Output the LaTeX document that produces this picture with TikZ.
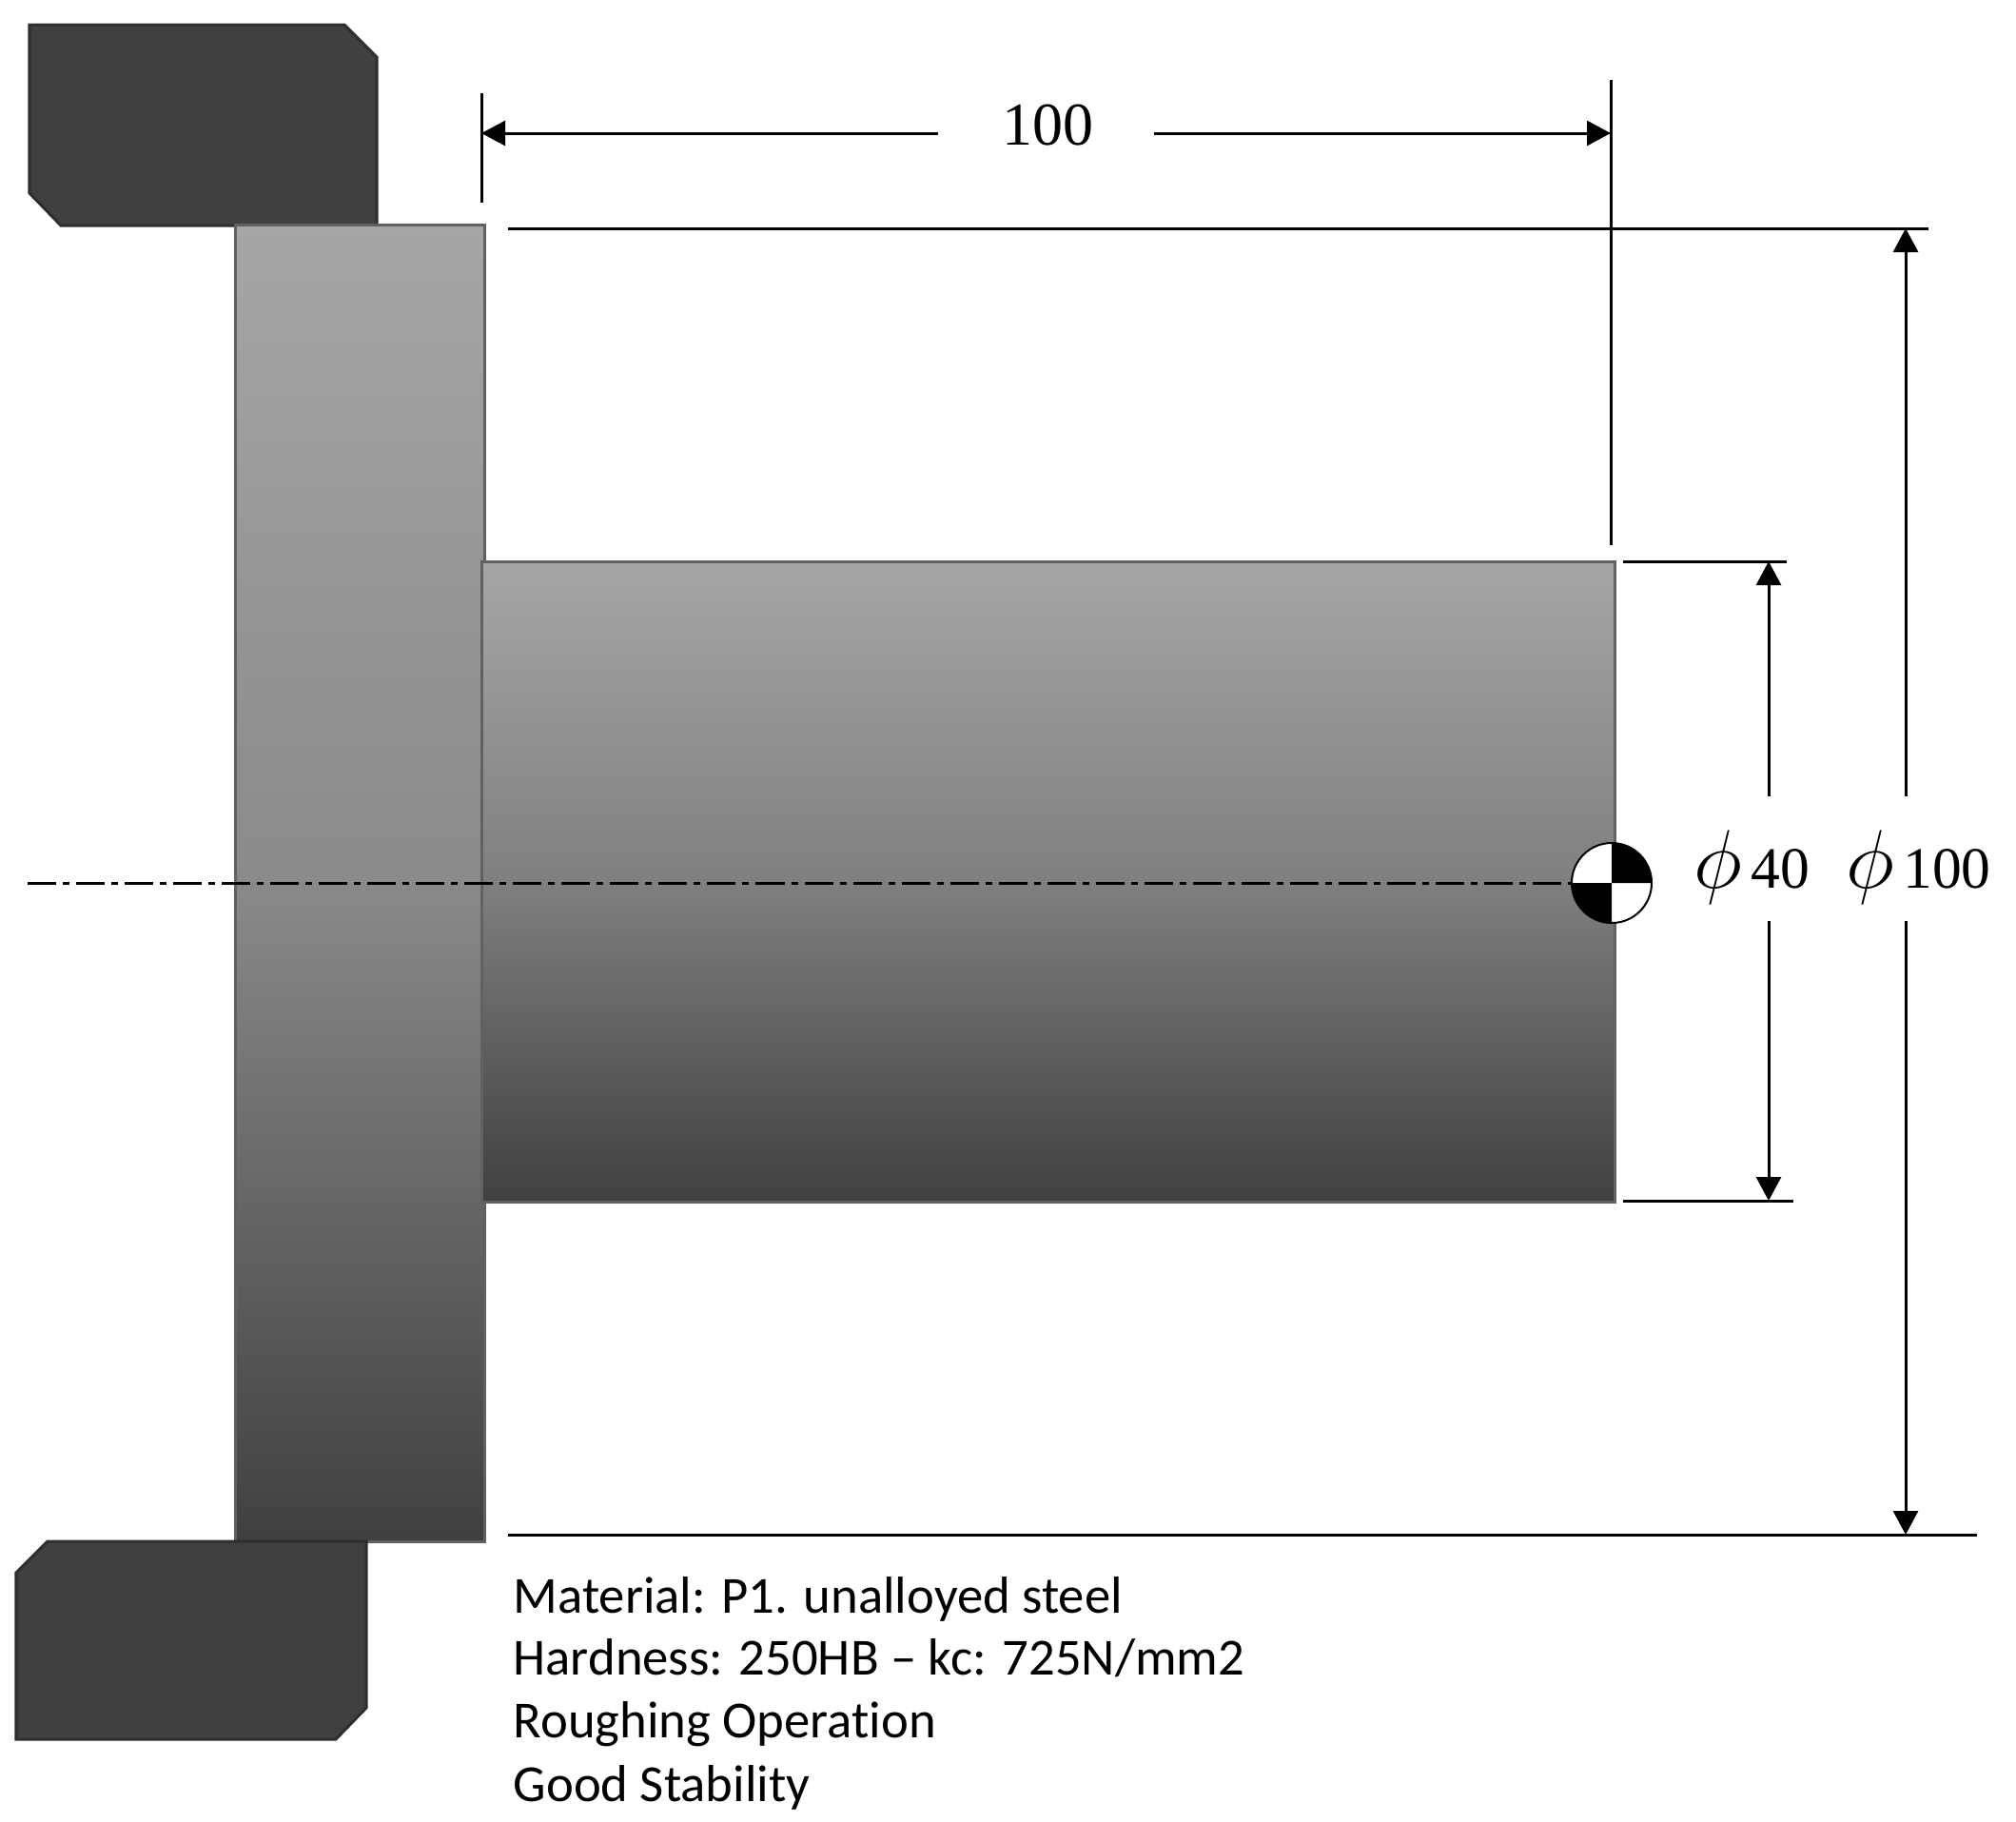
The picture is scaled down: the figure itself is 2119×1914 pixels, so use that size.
\documentclass[tikz,border=0pt]{standalone}
\usepackage{fontspec}
\usetikzlibrary{arrows.meta}
\setmainfont[Ligatures=CommonOff]{Carlito}
\newfontfamily\dimfont{Liberation Serif}

\tikzset{
    jaw/.style={draw=black!82, fill=black!75, line width=0.03cm},
    part/.style={draw=black!62, line width=0.03cm, top color=black!35, bottom color=black!75, shading angle=0},
    dimline/.style={line width=0.03cm},
    dimarrow/.style={dimline, -{Triangle[length=0.25cm,width=0.26cm]}},
    centreline/.style={line width=0.03cm, dash pattern=on 0.30cm off 0.07cm on 0.07cm off 0.07cm},
    notetext/.style={anchor=base west, inner sep=0pt, font=\fontsize{15.55}{18}\selectfont},
    dimtext/.style={inner sep=0pt, anchor=base west}
}
\newcommand{\dimphi}[1]{{\fontsize{23.5}{24}\selectfont$\phi$}\hspace{0.09cm}{\fontsize{17.5}{20}\dimfont\selectfont#1}}

\begin{document}
\begin{tikzpicture}[x=0.01cm, y=-0.01cm]
    \useasboundingbox (0,0) rectangle (2119,1914);
    % chuck jaws
    \draw[jaw] (31,26) -- (362,26) -- (396,60) -- (396,237) -- (64,237) -- (31,203) -- cycle;
    % workpiece
    \draw[part, middle color=black!46] (247,236) rectangle (509,1620);
    \draw[part, middle color=black!50] (506,590) rectangle (1697,1263);
    \draw[jaw] (50,1620) -- (385,1620) -- (385,1795) -- (353,1828) -- (17,1828) -- (17,1653) -- cycle;

    % centre line and mark
    \coordinate (axisstart) at (29,928);
    \coordinate (centre) at (1694,928);
    \draw[centreline] (axisstart) -- (centre);
    \fill[white] (centre) circle[radius=0.42cm];
    \fill (centre) -- ++(0.42cm,0) arc[start angle=0, end angle=90, radius=0.42cm] -- cycle;
    \fill (centre) -- ++(-0.42cm,0) arc[start angle=180, end angle=270, radius=0.42cm] -- cycle;
    \draw[line width=0.02cm] (centre) circle[radius=0.42cm];

    % length
    \coordinate (lenleft) at (506,140);
    \coordinate (lenright) at (1693,140);
    \node (lenlabel) at (1101,132) {\fontsize{18.2}{20}\dimfont\selectfont 100};
    \draw[dimline] (506,98) -- (506,213);
    \draw[dimline] (1693,84) -- (1693,573);
    \draw[dimarrow] (986,140) -- (lenleft);
    \draw[dimarrow] (1213,140) -- (lenright);

    % outer diameter
    \draw[dimline] (534,240) -- (2027,240);
    \draw[dimline] (534,1613) -- (2078,1613);
    \draw[dimarrow] (2003,837) -- (2003,240);
    \draw[dimarrow] (2003,968) -- (2003,1613);
    \node[dimtext] (outerlabel) at (1940,933) {\dimphi{100}};

    % shaft diameter
    \draw[dimline] (1706,590) -- (1878,590);
    \draw[dimline] (1706,1262) -- (1885,1262);
    \draw[dimarrow] (1859,837) -- (1859,590);
    \draw[dimarrow] (1859,968) -- (1859,1262);
    \node[dimtext] (shaftlabel) at (1780,933) {\dimphi{40}};

    % cutting data
    \node[notetext] (material) at (539,1695) {Material: P1. unalloyed steel};
    \node[notetext] (hardness) at (539,1760) {Hardness: 250HB -- kc: 725N/mm2};
    \node[notetext] (operation) at (539,1826) {Roughing Operation};
    \node[notetext] (stability) at (539,1893) {Good Stability};
\end{tikzpicture}
\end{document}
